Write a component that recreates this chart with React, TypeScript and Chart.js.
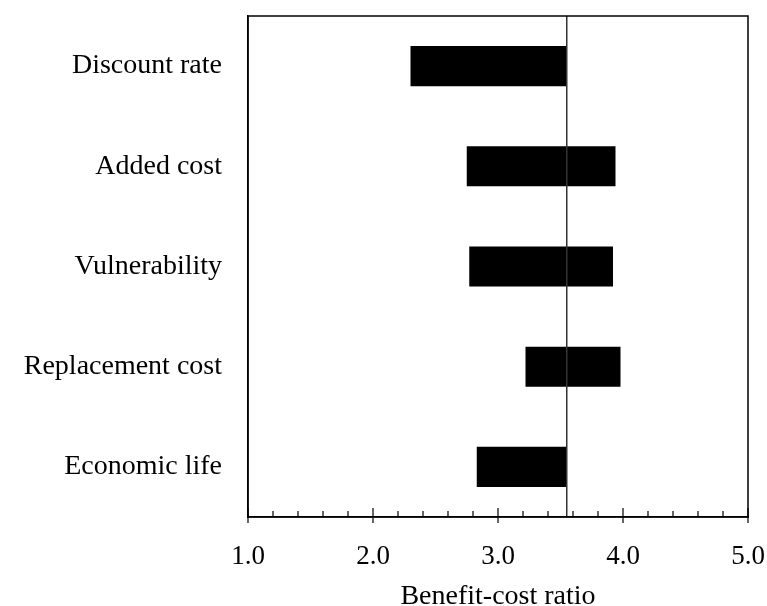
import React, { useEffect, useRef } from "react";
import { Chart, registerables } from "chart.js";

Chart.register(...registerables);

const categories = ["Discount rate", "Added cost", "Vulnerability", "Replacement cost", "Economic life"];
const lowValues = [2.3, 2.75, 2.77, 3.22, 2.83];
const highValues = [3.55, 3.94, 3.92, 3.98, 3.55];
const baseRatio = 3.55;
const xMin = 1.0;
const xMax = 5.0;
const xTitle = "Benefit-cost ratio";

const FONT = "'Liberation Serif', 'Times New Roman', serif";

const framePlugin = {
  id: "frameAndTicks",
  afterDatasetsDraw(chart: any) {
    const { ctx, chartArea, scales } = chart;
    const x = scales.x;
    ctx.save();
    const px = x.getPixelForValue(baseRatio);
    ctx.strokeStyle = "#333";
    ctx.lineWidth = 1.5;
    ctx.beginPath();
    ctx.moveTo(px, chartArea.top);
    ctx.lineTo(px, chartArea.bottom);
    ctx.stroke();
    ctx.strokeStyle = "#000";
    ctx.lineWidth = 1.5;
    ctx.strokeRect(chartArea.left, chartArea.top, chartArea.right - chartArea.left, chartArea.bottom - chartArea.top);
    ctx.lineWidth = 1.2;
    x.ticks.forEach((t: any) => {
      const p = x.getPixelForValue(t.value);
      const major = Math.abs(t.value - Math.round(t.value)) < 1e-6;
      ctx.beginPath();
      if (major) {
        ctx.moveTo(p, chartArea.bottom - 9);
        ctx.lineTo(p, chartArea.bottom + 6);
      } else {
        ctx.moveTo(p, chartArea.bottom - 6);
        ctx.lineTo(p, chartArea.bottom);
      }
      ctx.stroke();
    });
    ctx.restore();
  },
};

const zeroPad = (s: any) => {
  s.paddingTop = 0;
  s.paddingBottom = 0;
  s.paddingLeft = 0;
  s.paddingRight = 0;
};

export default function App() {
  const ref = useRef<HTMLCanvasElement | null>(null);
  useEffect(() => {
    if (!ref.current) return;
    const chart = new Chart(ref.current, {
      type: "bar",
      data: {
        labels: categories,
        datasets: [
          {
            data: categories.map((_, i) => [lowValues[i], highValues[i]]) as any,
            backgroundColor: "#000",
            borderWidth: 0,
            barPercentage: 0.4,
            categoryPercentage: 1,
          },
        ],
      },
      options: {
        indexAxis: "y",
        animation: false,
        responsive: false,
        maintainAspectRatio: false,
        layout: { padding: { top: 16, right: 19, left: 0, bottom: 0 } },
        plugins: { legend: { display: false }, tooltip: { enabled: false } },
        scales: {
          x: {
            type: "linear",
            min: xMin,
            max: xMax,
            ticks: {
              stepSize: 0.2,
              autoSkip: false,
              maxRotation: 0,
              color: "#000",
              font: { family: FONT, size: 27 },
              padding: 24,
              callback: (v: any) => {
                const n = Number(v);
                return Math.abs(n - Math.round(n)) < 1e-6 ? n.toFixed(1) : "";
              },
            },
            grid: { display: true, drawOnChartArea: false, drawTicks: false },
            border: { display: true, color: "#000", width: 1.5 },
            title: {
              display: true,
              text: xTitle,
              color: "#000",
              font: { family: FONT, size: 28 },
              padding: { top: 0, bottom: -7 },
            },
            afterFit: (s: any) => {
              s.height = 89;
              zeroPad(s);
            },
          },
          y: {
            ticks: {
              color: "#000",
              font: { family: FONT, size: 28 },
              padding: 26,
            },
            grid: { display: false, drawTicks: false },
            border: { display: true, color: "#000", width: 1.5 },
            afterFit: (s: any) => {
              s.width = 248;
              zeroPad(s);
            },
          },
        },
      },
      plugins: [framePlugin],
    });
    return () => chart.destroy();
  }, []);
  return (
    <div style={{ position: "absolute", left: 0, top: 0, width: 767, height: 606, background: "#fff" }}>
      <canvas ref={ref} width={767} height={606} style={{ width: 767, height: 606 }} />
    </div>
  );
}
